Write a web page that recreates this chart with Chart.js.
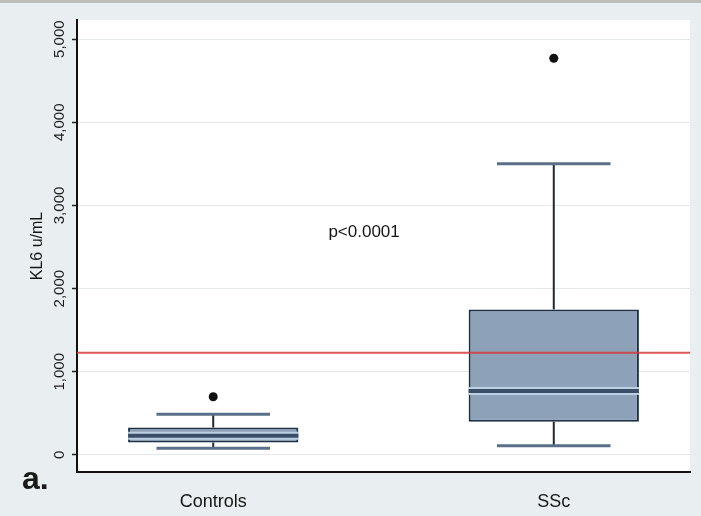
<!DOCTYPE html>
<html>
<head>
<meta charset="utf-8">
<script src="https://cdn.jsdelivr.net/npm/chart.js@4/dist/chart.umd.min.js"></script>
<style>
  html, body { margin: 0; padding: 0; background: #e9eff1; }
  canvas { display: block; }
</style>
</head>
<body>
<canvas id="kl6" width="701" height="516"></canvas>
<script>
// KL-6 serum levels: controls vs systemic sclerosis (box plot)
const groups = ['Controls', 'SSc'];
const groupPos = [1, 2];
const lowerWhisker = [80, 110];
const q1 = [150, 400];
const median = [230, 770];
const q3 = [330, 1750];
const upperWhisker = [490, 3500];
const outliers = [[700], [4770]];
const cutoff = 1230;
const yTicks = [0, 1000, 2000, 3000, 4000, 5000];
const yRange = [-205, 5230];
const xRange = [0.6, 2.4];
const pText = 'p<0.0001';
const pAt = { x: 1.443, y: 2680 };
const panelLabel = 'a.';

const BOX_HALF = 0.25;   // half box width, x units
const CAP_HALF = 1 / 6;  // half whisker-cap width, x units
const FONT = '"Liberation Sans", Arial, Helvetica, sans-serif';

const seg = (x0, y0, x1, y1) => [{ x: x0, y: y0 }, { x: x1, y: y1 }];
const lineSet = (data, color, width, order) => ({
  type: 'line', data, borderColor: color, borderWidth: width,
  pointRadius: 0, fill: false, order, borderCapStyle: 'butt'
});

const datasets = [];

// boxes (Q1..Q3) as floating bars
datasets.push({
  type: 'bar',
  data: groups.map((g, i) => ({ x: groupPos[i], y: [q1[i], q3[i]] })),
  backgroundColor: '#8da1b8',
  borderColor: '#1d3047',
  borderWidth: 2,
  borderSkipped: false,
  barPercentage: 1,
  categoryPercentage: 0.5,
  order: 10
});

groups.forEach((g, i) => {
  const x = groupPos[i];
  // whisker stems
  datasets.push(lineSet(seg(x, q3[i], x, upperWhisker[i]), '#1c2a3a', 2, 11));
  datasets.push(lineSet(seg(x, q1[i], x, lowerWhisker[i]), '#1c2a3a', 2, 11));
  // whisker caps
  datasets.push(lineSet(seg(x - CAP_HALF, upperWhisker[i], x + CAP_HALF, upperWhisker[i]), '#5a6f88', 3, 8));
  datasets.push(lineSet(seg(x - CAP_HALF, lowerWhisker[i], x + CAP_HALF, lowerWhisker[i]), '#5a6f88', 3, 8));
  // median: light halo with dark core
  datasets.push(lineSet(seg(x - BOX_HALF, median[i], x + BOX_HALF, median[i]), '#bcd0e4', 8, 5));
  datasets.push(lineSet(seg(x - BOX_HALF, median[i], x + BOX_HALF, median[i]), '#3a4f66', 4, 4));
});

// cut-off reference line
datasets.push(lineSet(seg(xRange[0], cutoff, xRange[1], cutoff), 'rgba(212,58,60,0.85)', 2, 1));

// outside values
datasets.push({
  type: 'scatter',
  data: outliers.flatMap((vals, i) => vals.map(v => ({ x: groupPos[i], y: v }))),
  backgroundColor: '#111',
  borderWidth: 0,
  pointRadius: 4.5,
  order: 0
});

const decor = {
  id: 'decor',
  beforeDraw(chart) {
    const { ctx, chartArea: a, width, height } = chart;
    ctx.save();
    ctx.fillStyle = '#e9eff1';
    ctx.fillRect(0, 0, width, height);
    ctx.fillStyle = '#bcbdb8';
    ctx.fillRect(0, 0, width, 3);
    ctx.fillStyle = '#ffffff';
    ctx.fillRect(a.left, a.top, a.right - a.left, a.bottom - a.top);
    ctx.restore();
  },
  afterDraw(chart) {
    const { ctx } = chart;
    const ys = chart.scales.y, xs = chart.scales.x;
    ctx.save();
    // rotated y tick labels
    ctx.fillStyle = '#1c1c1c';
    ctx.font = '15px ' + FONT;
    ctx.textAlign = 'center';
    ctx.textBaseline = 'middle';
    yTicks.forEach(v => {
      ctx.save();
      ctx.translate(60, ys.getPixelForValue(v));
      ctx.rotate(-Math.PI / 2);
      ctx.fillText(v.toLocaleString('en-US'), 0, 0);
      ctx.restore();
    });
    // significance text
    ctx.font = '17px ' + FONT;
    ctx.fillStyle = '#151515';
    ctx.fillText(pText, xs.getPixelForValue(pAt.x), ys.getPixelForValue(pAt.y));
    // panel label
    ctx.font = 'bold 32px ' + FONT;
    ctx.fillStyle = '#1a1a1a';
    ctx.textAlign = 'left';
    ctx.textBaseline = 'alphabetic';
    ctx.fillText(panelLabel, 22, 489);
    ctx.restore();
  }
};

new Chart(document.getElementById('kl6'), {
  type: 'bar',
  data: { datasets },
  plugins: [decor],
  options: {
    responsive: false,
    animation: false,
    devicePixelRatio: 1,
    layout: { padding: { top: 20, right: 11, left: 0, bottom: 0 } },
    plugins: { legend: { display: false }, tooltip: { enabled: false } },
    scales: {
      x: {
        type: 'linear',
        min: xRange[0],
        max: xRange[1],
        offset: false,
        afterBuildTicks: s => { s.ticks = groupPos.map(v => ({ value: v })); },
        afterFit: s => { s.height = 44; },
        ticks: {
          padding: 11,
          autoSkip: false,
          maxRotation: 0,
          color: '#151515',
          font: { family: FONT, size: 18 },
          callback: v => groups[groupPos.indexOf(v)] ?? ''
        },
        grid: { display: false },
        border: { display: true, color: '#111', width: 2 }
      },
      y: {
        type: 'linear',
        min: yRange[0],
        max: yRange[1],
        afterBuildTicks: s => { s.ticks = yTicks.map(v => ({ value: v })); },
        afterFit: s => { s.width = 77; },
        ticks: { display: false },
        grid: {
          color: '#e4e8ea',
          lineWidth: 1,
          drawTicks: true,
          tickLength: 5,
          tickColor: '#222',
          tickWidth: 1.5
        },
        border: { display: true, color: '#111', width: 2 },
        title: {
          display: true,
          text: 'KL6 u/mL',
          color: '#151515',
          font: { family: FONT, size: 16 },
          padding: { top: 28, bottom: 0 }
        }
      }
    }
  }
});
</script>
</body>
</html>
